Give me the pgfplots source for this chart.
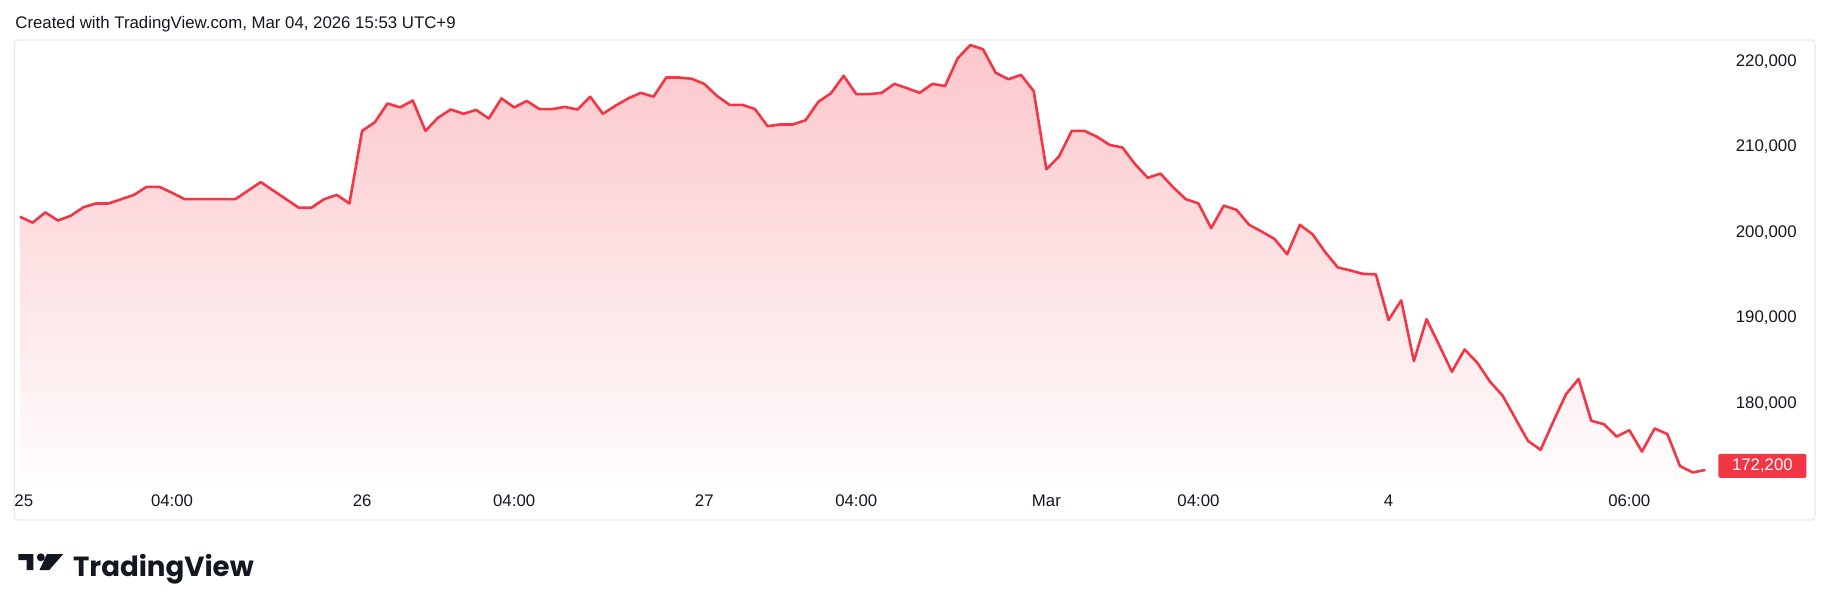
\documentclass[border=0pt]{standalone}
\usepackage{pgfplots}
\pgfplotsset{compat=1.18}
\usepackage{pgfplotstable}
\usepackage{graphicx}
\usepackage{fontspec}
\setmainfont{Liberation Sans}
\newfontfamily\logofont{Poppins}
\definecolor{tvred}{HTML}{F23645}
\definecolor{tvtext}{HTML}{131722}
\definecolor{tvframe}{HTML}{E6E8ED}

\pgfplotstableread{
i v
0 201850
1 201150
2 202350
3 201400
4 201950
5 202950
6 203400
7 203400
8 203900
9 204400
10 205350
11 205350
12 204650
13 203900
14 203900
15 203900
16 203900
17 203900
18 204900
19 205900
20 204900
21 203900
22 202900
23 202900
24 203900
25 204400
26 203400
27 211900
28 212900
29 215100
30 214650
31 215450
32 211900
33 213450
34 214400
35 213900
36 214350
37 213350
38 215700
39 214650
40 215400
41 214450
42 214450
43 214700
44 214400
45 215900
46 213900
47 214850
48 215700
49 216350
50 215900
51 218150
52 218150
53 218000
54 217400
55 216000
56 214950
57 214950
58 214450
59 212450
60 212650
61 212650
62 213150
63 215300
64 216300
65 218350
66 216200
67 216200
68 216350
69 217400
70 216900
71 216350
72 217400
73 217150
74 220400
75 221950
76 221450
77 218700
78 217950
79 218450
80 216550
81 207400
82 208900
83 211900
84 211900
85 211200
86 210250
87 209950
88 208000
89 206400
90 206900
91 205300
92 203900
93 203400
94 200500
95 203150
96 202650
97 200900
98 200100
99 199250
100 197450
101 200900
102 199800
103 197700
104 195900
105 195550
106 195150
107 195100
108 189750
109 192050
110 184950
111 189850
112 186800
113 183700
114 186300
115 184750
116 182550
117 180900
118 178250
119 175600
120 174550
121 177850
122 181050
123 182850
124 177950
125 177550
126 176100
127 176850
128 174350
129 177050
130 176400
131 172650
132 171900
133 172200
}\pricedata

\begin{document}
\begin{tikzpicture}[x=1pt,y=1pt]
\useasboundingbox (0,0) rectangle (915,305.5);
\fill[white] (0,0) rectangle (915,305.5);
\draw[tvframe, line width=0.6pt, rounded corners=1.5pt] (7.25,45.5) rectangle (907.5,285.5);
\node[anchor=base west, inner sep=0pt, text=tvtext, font=\fontsize{8.4}{10}\selectfont] at (7.5,291.35) {Created with TradingView.com, Mar 04, 2026 15:53 UTC+9};
\begin{axis}[
  at={(7pt,64pt)}, anchor=south west, scale only axis,
  width=852pt, height=221pt,
  xmin=-0.47, xmax=134.0, ymin=170667, ymax=222424,
  axis line style={draw=none}, major tick length=0pt,
  scaled y ticks=false,
  xtick={0.3,12,27,39,54,66,81,93,108,127},
  xticklabels={25,04:00,26,04:00,27,04:00,Mar,04:00,4,06:00},
  ytick={180000,190000,200000,210000,220000},
  yticklabels={{180,000},{190,000},{200,000},{210,000},{220,000}},
  yticklabel pos=right,
  ticklabel style={font=\fontsize{8.4}{10}\selectfont, text=tvtext, inner sep=0pt},
  yticklabel style={anchor=east, xshift=39.5pt},
  xticklabel style={anchor=base, yshift=-11.8pt},
  clip=false,
]
\addplot[draw=none, top color=tvred!28, bottom color=tvred!1, forget plot] table[x=i,y=v]{\pricedata} -- (axis cs:133,170667) -- (axis cs:0,170667) -- cycle;
\addplot[tvred, line width=1.3pt, line join=round, mark=none] table[x=i,y=v]{\pricedata};
\node[fill=tvred, text=white, anchor=west, inner xsep=6.8pt, inner ysep=0pt, minimum height=12pt, rounded corners=1pt, yshift=2pt, font=\fontsize{8.4}{10}\selectfont] at (axis cs:134.0,172200) {172,200};
\end{axis}
% logo
\fill[tvtext] (9.15,28.5) -- (16.65,28.5) -- (16.65,20.5) -- (13.35,20.5) -- (13.35,25.5) -- (9.15,25.5) -- cycle;
\fill[tvtext] (20.4,26.85) circle (2.0);
\fill[tvtext] (23.45,28.5) -- (31.65,28.5) -- (24.65,20.5) -- (19.75,20.5) -- cycle;
\node[anchor=base west, inner sep=0pt, text=tvtext] at (36.35,17.15) {\resizebox{90.3pt}{11.1pt}{\logofont\bfseries TradingView}};
\end{tikzpicture}
\end{document}
